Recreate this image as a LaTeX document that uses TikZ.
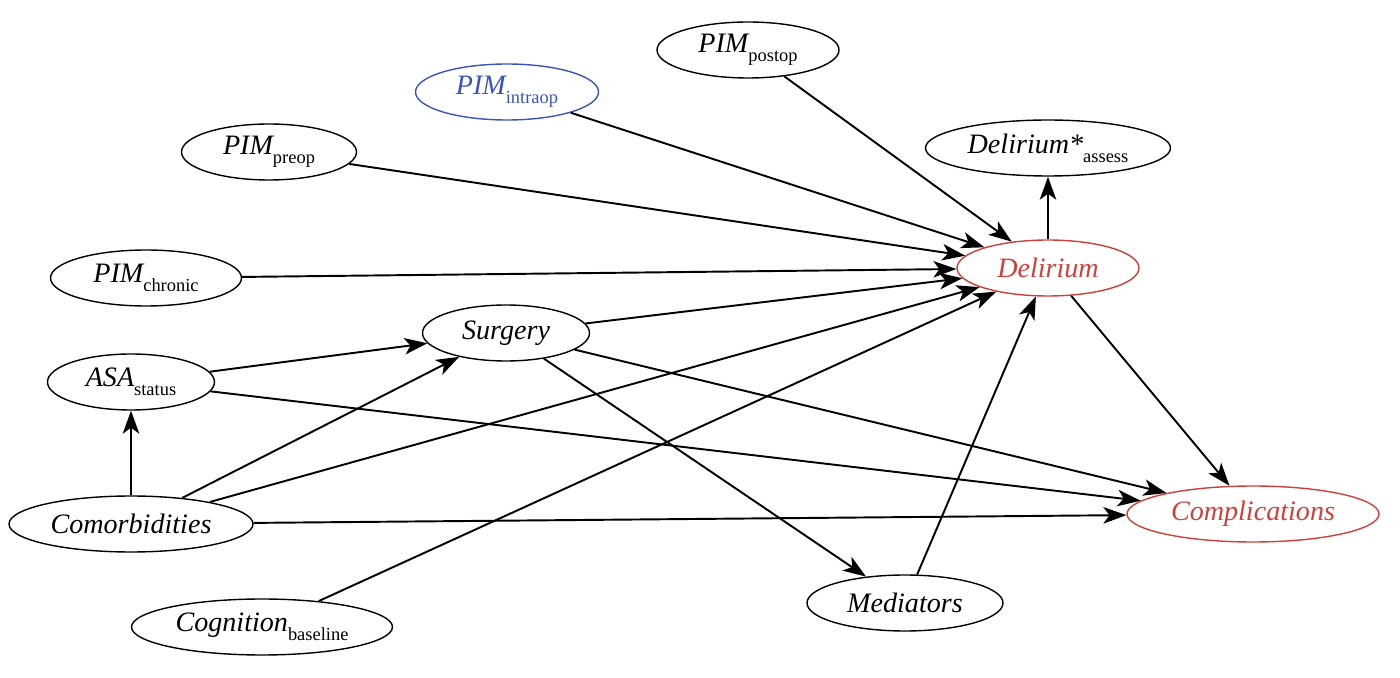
\documentclass[tikz,border=0pt]{standalone}
\usepackage{fontspec}
\setmainfont{Liberation Serif}
\usetikzlibrary{shapes.geometric,arrows.meta}
\definecolor{dred}{RGB}{208,64,58}
\definecolor{dblue}{RGB}{58,84,190}
\newcommand{\mysub}[1]{\raisebox{-5pt}{\upshape\fontsize{10.5}{12}\selectfont #1}}
\begin{document}
\begin{tikzpicture}[x=0.02cm,y=-0.02cm,
  nd/.style={ellipse, draw, line width=0.8pt, minimum height=1.12cm, minimum width=#1*0.02cm, inner sep=0pt,
    font=\fontsize{16}{19}\selectfont\itshape},
  edge/.style={line width=1.1pt, -{Stealth[length=0.46cm,width=0.33cm,inset=0.12cm]}},
  hl/.style={draw=dred, text=dred},
  hb/.style={draw=dblue, text=dblue}]
\useasboundingbox (0,0) rectangle (1400,678);
\node[nd=182] (postop) at (748,50) {PIM\mysub{postop}};
\node[nd=183,hb] (intraop) at (507,92) {PIM\mysub{intraop}};
\node[nd=175] (preop) at (269,152) {PIM\mysub{preop}};
\node[nd=245] (assess) at (1048,148) {Delirium*\mysub{assess}};
\node[nd=191] (chronic) at (146,278) {PIM\mysub{chronic}};
\node[nd=182,hl] (delirium) at (1048,268) {Delirium};
\node[nd=167] (surgery) at (506,333) {Surgery};
\node[nd=167] (asa) at (131,382) {ASA\mysub{status}};
\node[nd=244] (comorb) at (131,524) {Comorbidities};
\node[nd=252,hl] (compl) at (1253,514) {Complications};
\node[nd=196] (mediators) at (905,603) {Mediators};
\node[nd=261] (cognition) at (262,627) {Cognition\mysub{baseline}};

\draw[edge] (postop) -- (delirium);
\draw[edge] (intraop) -- (delirium);
\draw[edge] (preop) -- (delirium);
\draw[edge] (chronic) -- (delirium);
\draw[edge] (surgery) -- (delirium);
\draw[edge] (comorb) -- (delirium);
\draw[edge] (cognition) -- (delirium);
\draw[edge] (mediators) -- (delirium);
\draw[edge] (delirium) -- (assess);
\draw[edge] (delirium) -- (compl);
\draw[edge] (asa) -- (surgery);
\draw[edge] (asa) -- (compl);
\draw[edge] (comorb) -- (asa);
\draw[edge] (comorb) -- (surgery);
\draw[edge] (comorb) -- (compl);
\draw[edge] (surgery) -- (compl);
\draw[edge] (surgery) -- (mediators);
\end{tikzpicture}
\end{document}
